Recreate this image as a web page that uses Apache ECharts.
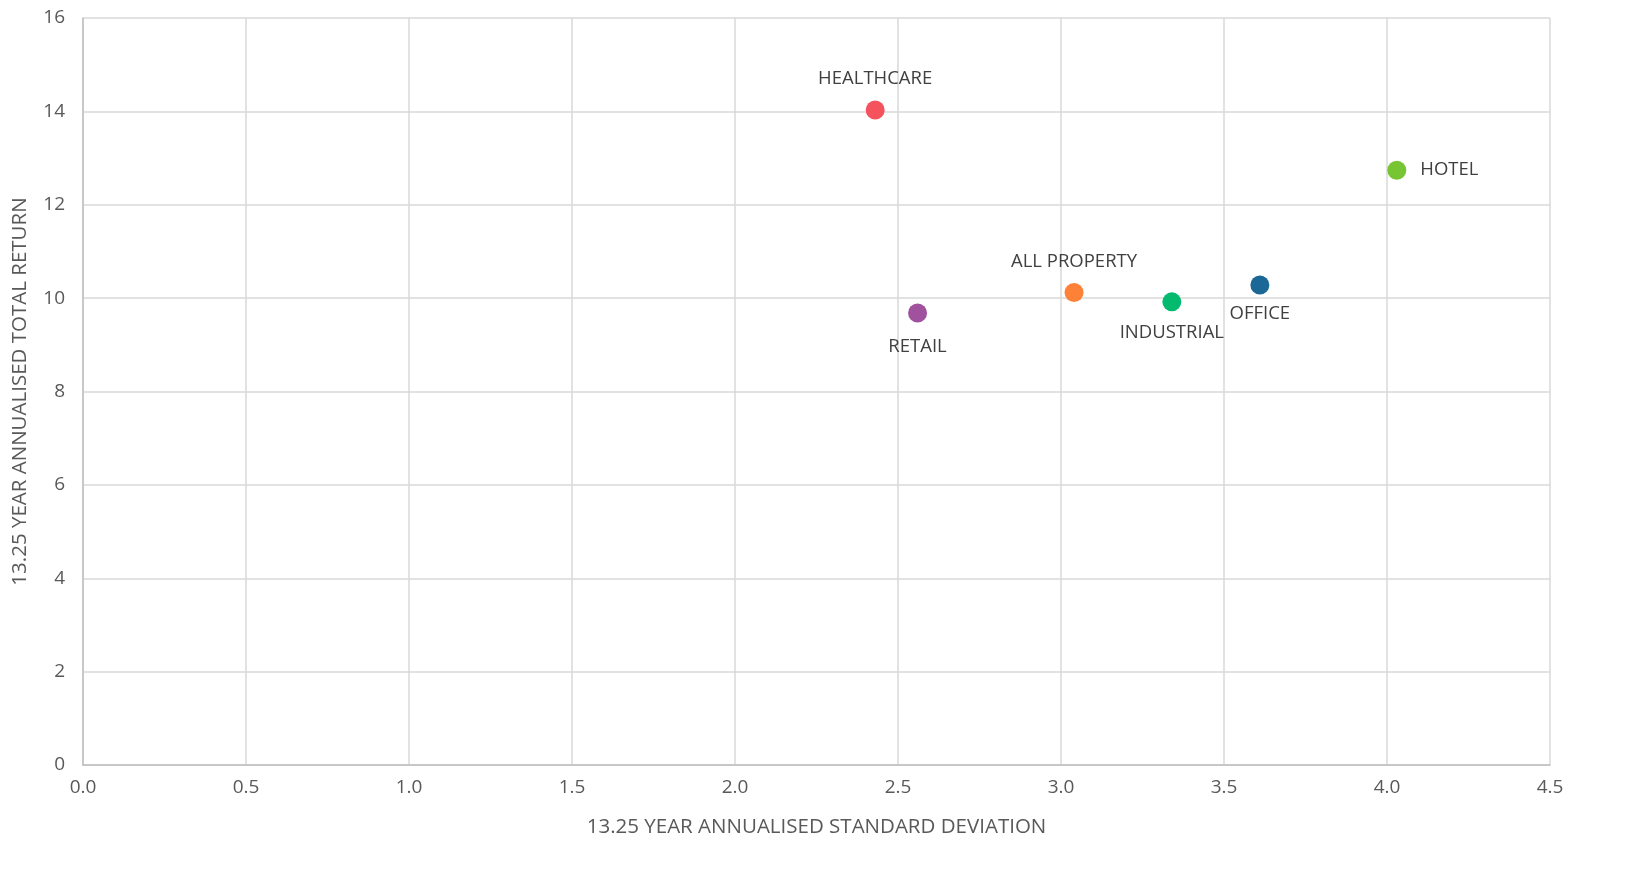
<!DOCTYPE html>
<html>
<head>
<meta charset="utf-8">
<script src="https://cdn.jsdelivr.net/npm/echarts@6/dist/echarts.min.js"></script>
<style>
html,body{margin:0;padding:0;background:#fff;}
#chart{width:1628px;height:872px;}
</style>
</head>
<body>
<div id="chart"></div>
<script>
var names = ['HEALTHCARE', 'HOTEL', 'ALL PROPERTY', 'INDUSTRIAL', 'OFFICE', 'RETAIL'];
var stdDev = [2.43, 4.03, 3.04, 3.34, 3.61, 2.56];
var totalReturn = [14.03, 12.74, 10.12, 9.92, 10.28, 9.68];
var colors = ['#F4525C', '#77C533', '#FE8138', '#03BA6E', '#1B6796', '#A0529E'];
var labelPos = ['top', 'right', 'top', 'bottom', 'bottom', 'bottom'];
var labelDist = [12, 14, 12, 12, 10, 15];

var series = names.map(function (n, i) {
  return {
    name: n,
    type: 'scatter',
    symbolSize: 19,
    data: [[stdDev[i], totalReturn[i]]],
    itemStyle: { color: colors[i], opacity: 1 },
    label: {
      show: true,
      position: labelPos[i],
      distance: labelDist[i],
      formatter: n,
      color: '#404040',
      fontSize: 18.5,
      fontFamily: 'Open Sans'
    }
  };
});

var chart = echarts.init(document.getElementById('chart'));
chart.setOption({
  animation: false,
  textStyle: { fontFamily: 'Open Sans' },
  grid: { left: 83, right: 78, top: 18, bottom: 107, containLabel: false },
  xAxis: {
    type: 'value',
    min: 0, max: 4.5, interval: 0.5,
    name: '13.25 YEAR ANNUALISED STANDARD DEVIATION',
    nameLocation: 'middle',
    nameGap: 52,
    nameTextStyle: { color: '#595959', fontSize: 20.5 },
    axisLine: { show: true, lineStyle: { color: '#BFBFBF', width: 1.5 } },
    axisTick: { show: false },
    axisLabel: { color: '#595959', fontSize: 19, margin: 13, formatter: function (v) { return v.toFixed(1); } },
    splitLine: { show: true, lineStyle: { color: '#D9D9D9', width: 1.5 } }
  },
  yAxis: {
    type: 'value',
    min: 0, max: 16, interval: 2,
    name: '13.25 YEAR ANNUALISED TOTAL RETURN',
    nameLocation: 'middle',
    nameGap: 52,
    nameTextStyle: { color: '#595959', fontSize: 20.5 },
    axisLine: { show: true, lineStyle: { color: '#BFBFBF', width: 1.5 } },
    axisTick: { show: false },
    axisLabel: { color: '#595959', fontSize: 19, margin: 18 },
    splitLine: { show: true, lineStyle: { color: '#D9D9D9', width: 1.5 } }
  },
  series: series
});
</script>
</body>
</html>
